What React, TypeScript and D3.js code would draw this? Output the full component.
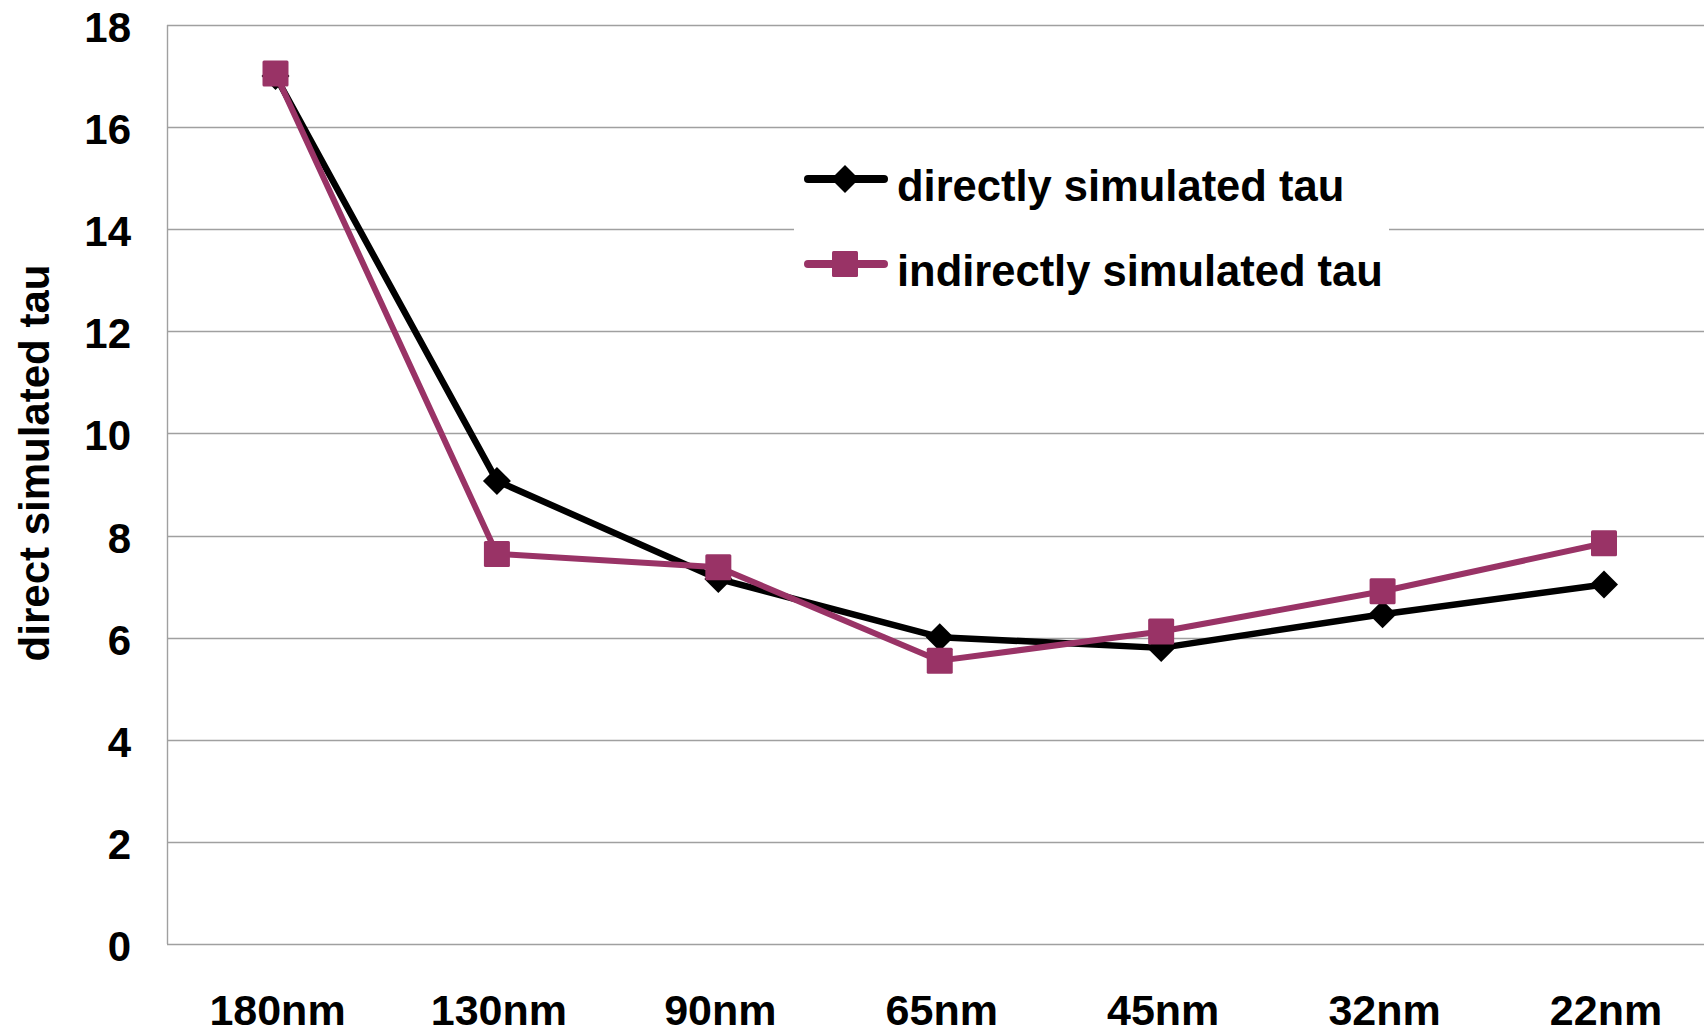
import React from "react";
import * as d3 from "d3";

// Process nodes on the horizontal axis
const nodes = ["180nm", "130nm", "90nm", "65nm", "45nm", "32nm", "22nm"];

// Simulated tau per node
const directTau = [17.0, 9.07, 7.15, 6.01, 5.8, 6.46, 7.04];
const indirectTau = [17.05, 7.64, 7.38, 5.55, 6.12, 6.91, 7.85];

// Y axis ticks
const yTicks = [0, 2, 4, 6, 8, 10, 12, 14, 16, 18];

const seriesNames = ["directly simulated tau", "indirectly simulated tau"];

const W = 1704;
const H = 1031;
const FONT = "'Liberation Sans', Arial, Helvetica, sans-serif";

const plotLeft = 167;
const plotTop = 25;
const plotBottom = 944;

const BLACK = "#000000";
const PLUM = "#993366";
const GRID = "#a0a0a0";

export default function App() {
  const x = d3.scalePoint<string>().domain(nodes).range([275.5, 1604]);
  const y = d3.scaleLinear().domain([0, 18]).range([plotBottom, plotTop]);

  const line = d3
    .line<number>()
    .x((_, i) => x(nodes[i]) as number)
    .y((v) => y(v));

  const diamond = (cx: number, cy: number, r: number) =>
    `M${cx},${cy - r}L${cx + r},${cy}L${cx},${cy + r}L${cx - r},${cy}Z`;

  const legendX0 = 808;
  const legendX1 = 884;
  const legendMid = 845;
  const legendTextX = 897;
  const legendRows = [179, 264];

  return (
    <svg
      width={W}
      height={H}
      style={{ position: "absolute", left: 0, top: 0, background: "#fff" }}
      fontFamily={FONT}
    >
      <rect x={0} y={0} width={W} height={H} fill="#fff" />

      {/* horizontal gridlines */}
      {yTicks.map((t) => (
        <line
          key={`g${t}`}
          x1={plotLeft}
          x2={W}
          y1={Math.round(y(t)) + 0.5}
          y2={Math.round(y(t)) + 0.5}
          stroke={GRID}
          strokeWidth={1.4}
        />
      ))}
      {/* left axis line */}
      <line
        x1={plotLeft + 0.5}
        x2={plotLeft + 0.5}
        y1={y(18)}
        y2={y(0)}
        stroke={GRID}
        strokeWidth={1.4}
      />

      {/* y tick labels */}
      {yTicks.map((t) => (
        <text
          key={`yt${t}`}
          x={131}
          y={y(t) + 17}
          textAnchor="end"
          fontSize={42}
          fontWeight="bold"
          fill="#000"
        >
          {t}
        </text>
      ))}

      {/* x tick labels */}
      {nodes.map((n) => (
        <text
          key={`xt${n}`}
          x={(x(n) as number) + 2}
          y={1025}
          textAnchor="middle"
          fontSize={43}
          fontWeight="bold"
          fill="#000"
        >
          {n}
        </text>
      ))}

      {/* y axis title */}
      <text
        transform="translate(49,463) rotate(-90)"
        textAnchor="middle"
        fontSize={42}
        fontWeight="bold"
        fill="#000"
      >
        direct simulated tau
      </text>

      {/* legend backdrop */}
      <rect x={794} y={150} width={595} height={150} fill="#fff" />

      {/* directly simulated series */}
      <path
        d={line(directTau) as string}
        fill="none"
        stroke={BLACK}
        strokeWidth={6.5}
        strokeLinejoin="round"
      />
      {directTau.map((v, i) => (
        <path
          key={`d${i}`}
          d={diamond(x(nodes[i]) as number, y(v), 14)}
          fill={BLACK}
        />
      ))}

      {/* indirectly simulated series */}
      <path
        d={line(indirectTau) as string}
        fill="none"
        stroke={PLUM}
        strokeWidth={6}
        strokeLinejoin="round"
      />
      {indirectTau.map((v, i) => (
        <rect
          key={`s${i}`}
          x={(x(nodes[i]) as number) - 13}
          y={y(v) - 13}
          width={26}
          height={26}
          rx={1.5}
          fill={PLUM}
        />
      ))}

      {/* legend */}
      <g>
        <line
          x1={legendX0}
          x2={legendX1}
          y1={legendRows[0]}
          y2={legendRows[0]}
          stroke={BLACK}
          strokeWidth={8}
          strokeLinecap="round"
        />
        <path d={diamond(legendMid, legendRows[0], 14)} fill={BLACK} />
        <text
          x={legendTextX}
          y={legendRows[0] + 22}
          fontSize={43.5}
          fontWeight="bold"
          fill="#000"
        >
          {seriesNames[0]}
        </text>

        <line
          x1={legendX0}
          x2={legendX1}
          y1={legendRows[1]}
          y2={legendRows[1]}
          stroke={PLUM}
          strokeWidth={8}
          strokeLinecap="round"
        />
        <rect
          x={legendMid - 13}
          y={legendRows[1] - 13}
          width={26}
          height={26}
          rx={1.5}
          fill={PLUM}
        />
        <text
          x={legendTextX}
          y={legendRows[1] + 22}
          fontSize={43.5}
          fontWeight="bold"
          fill="#000"
        >
          {seriesNames[1]}
        </text>
      </g>
    </svg>
  );
}
